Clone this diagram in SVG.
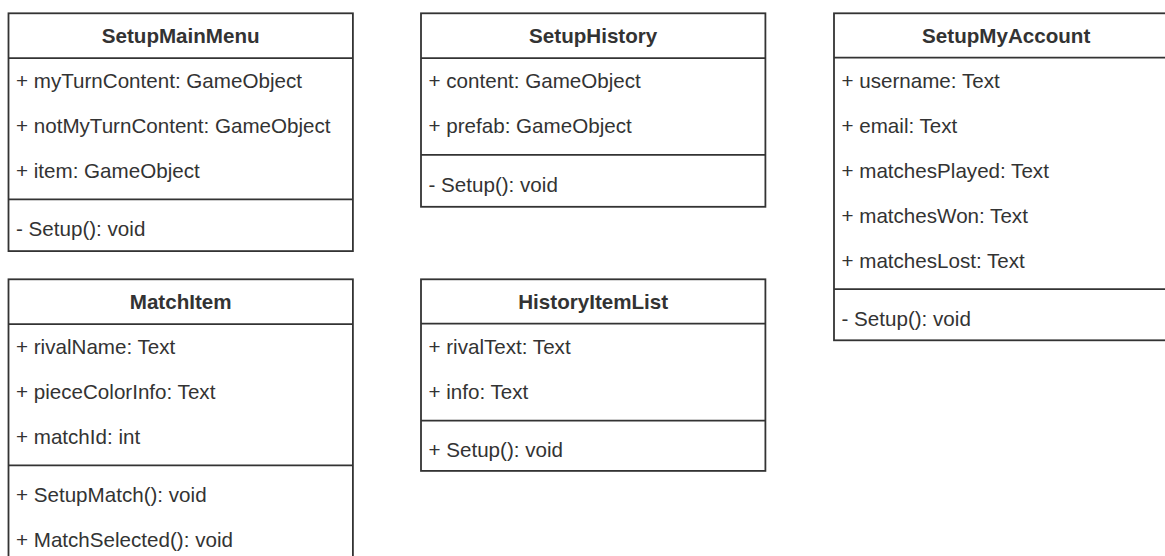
<svg xmlns="http://www.w3.org/2000/svg" width="1165" height="556" viewBox="0 0 1165 556">
  <style>
    .box { fill: #ffffff; stroke: #333333; stroke-width: 1.8; }
    .rule { stroke: #333333; stroke-width: 1.8; fill: none; }
    .title { font-family: "Liberation Sans", Arial, sans-serif; font-size: 20.6px; font-weight: bold; fill: #333333; text-anchor: middle; }
    .member { font-family: "Liberation Sans", Arial, sans-serif; font-size: 20.6px; fill: #333333; }
  </style>
  <rect width="1165" height="556" fill="#ffffff"/>

  <!-- Class: SetupMainMenu -->
  <g id="SetupMainMenu">
    <rect class="box" x="8.5" y="13.3" width="344.4" height="237.8"/>
    <line class="rule" x1="8.5" y1="58.1" x2="352.9" y2="58.1"/>
    <line class="rule" x1="8.5" y1="199.4" x2="352.9" y2="199.4"/>
    <text class="title" x="180.7" y="43.4">SetupMainMenu</text>
    <text class="member" x="16" y="88.4">+ myTurnContent: GameObject</text>
    <text class="member" x="16" y="133.2">+ notMyTurnContent: GameObject</text>
    <text class="member" x="16" y="178">+ item: GameObject</text>
    <text class="member" x="16" y="236.4">- Setup(): void</text>
  </g>

  <!-- Class: MatchItem (continues below the page edge) -->
  <g id="MatchItem">
    <rect class="box" x="8.5" y="279.3" width="344.4" height="290"/>
    <line class="rule" x1="8.5" y1="324.1" x2="352.9" y2="324.1"/>
    <line class="rule" x1="8.5" y1="465.4" x2="352.9" y2="465.4"/>
    <text class="title" x="180.7" y="309.4">MatchItem</text>
    <text class="member" x="16" y="354.4">+ rivalName: Text</text>
    <text class="member" x="16" y="399.2">+ pieceColorInfo: Text</text>
    <text class="member" x="16" y="444">+ matchId: int</text>
    <text class="member" x="16" y="502.4">+ SetupMatch(): void</text>
    <text class="member" x="16" y="547.2">+ MatchSelected(): void</text>
  </g>

  <!-- Class: SetupHistory -->
  <g id="SetupHistory">
    <rect class="box" x="421" y="13.3" width="344.4" height="193.5"/>
    <line class="rule" x1="421" y1="58.1" x2="765.4" y2="58.1"/>
    <line class="rule" x1="421" y1="154.8" x2="765.4" y2="154.8"/>
    <text class="title" x="593.2" y="43.4">SetupHistory</text>
    <text class="member" x="428.5" y="88.4">+ content: GameObject</text>
    <text class="member" x="428.5" y="133.2">+ prefab: GameObject</text>
    <text class="member" x="428.5" y="192">- Setup(): void</text>
  </g>

  <!-- Class: HistoryItemList -->
  <g id="HistoryItemList">
    <rect class="box" x="421" y="279.3" width="344.4" height="191.6"/>
    <line class="rule" x1="421" y1="323.6" x2="765.4" y2="323.6"/>
    <line class="rule" x1="421" y1="420.6" x2="765.4" y2="420.6"/>
    <text class="title" x="593.2" y="309.2">HistoryItemList</text>
    <text class="member" x="428.5" y="354">+ rivalText: Text</text>
    <text class="member" x="428.5" y="398.8">+ info: Text</text>
    <text class="member" x="428.5" y="457">+ Setup(): void</text>
  </g>

  <!-- Class: SetupMyAccount (continues past the right edge) -->
  <g id="SetupMyAccount">
    <rect class="box" x="834" y="13.3" width="344.4" height="327"/>
    <line class="rule" x1="834" y1="57.6" x2="1178.4" y2="57.6"/>
    <line class="rule" x1="834" y1="289.2" x2="1178.4" y2="289.2"/>
    <text class="title" x="1006.2" y="43.4">SetupMyAccount</text>
    <text class="member" x="841.5" y="88.4">+ username: Text</text>
    <text class="member" x="841.5" y="133.2">+ email: Text</text>
    <text class="member" x="841.5" y="178">+ matchesPlayed: Text</text>
    <text class="member" x="841.5" y="222.8">+ matchesWon: Text</text>
    <text class="member" x="841.5" y="267.6">+ matchesLost: Text</text>
    <text class="member" x="841.5" y="326">- Setup(): void</text>
  </g>

  <!-- No associations are drawn between these classes -->
  <g id="connectors"/>
</svg>
